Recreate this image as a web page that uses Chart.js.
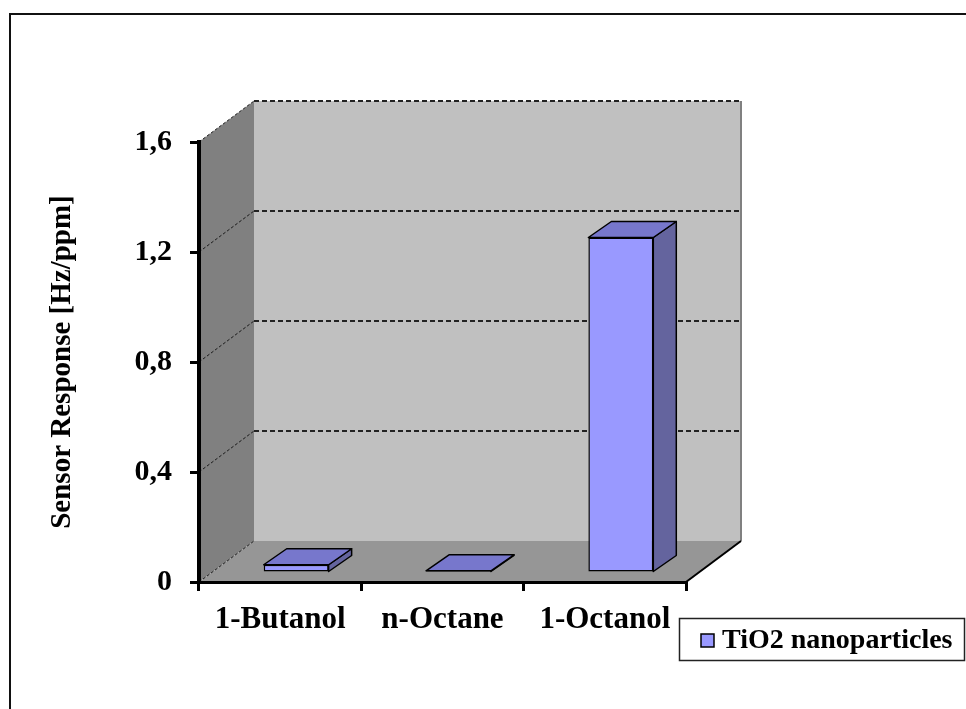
<!DOCTYPE html>
<html>
<head>
<meta charset="utf-8">
<script src="https://cdn.jsdelivr.net/npm/chart.js@4.4.1/dist/chart.umd.min.js"></script>
<style>
  html, body { margin: 0; padding: 0; background: #fff; }
  #wrap { position: relative; width: 966px; height: 709px; }
</style>
</head>
<body>
<div id="wrap"><canvas id="chart" width="966" height="709"></canvas></div>
<script>
const categories = ['1-Butanol', 'n-Octane', '1-Octanol'];
const seriesName = 'TiO2 nanoparticles';
const responses = [0.03, 0.008, 1.22];
const yTicks = [0, 0.4, 0.8, 1.2, 1.6];

const SERIF = "'Liberation Serif', 'Times New Roman', serif";

// depth of the box (walls) and of the bars, in pixels
const WALL_DX = 55, WALL_DY = -41;
const BAR_SHIFT_X = 16, BAR_SHIFT_Y = -9;
const BAR_DX = 23, BAR_DY = -16;

function fillPoly(ctx, pts, color) {
  ctx.beginPath();
  ctx.moveTo(pts[0][0], pts[0][1]);
  for (let i = 1; i < pts.length; i++) ctx.lineTo(pts[i][0], pts[i][1]);
  ctx.closePath();
  ctx.fillStyle = color;
  ctx.fill();
}

// frame, walls, floor and grid lines behind everything
const wallsPlugin = {
  id: 'walls',
  beforeDraw(chart) {
    const { ctx, chartArea: a } = chart;
    const y = chart.scales.y;
    ctx.save();

    // outer chart frame
    ctx.strokeStyle = '#111';
    ctx.lineWidth = 2;
    ctx.beginPath();
    ctx.moveTo(10, 720);
    ctx.lineTo(10, 14);
    ctx.lineTo(980, 14);
    ctx.stroke();

    // left side wall
    fillPoly(ctx, [[a.left, a.top], [a.left + WALL_DX, a.top + WALL_DY],
      [a.left + WALL_DX, a.bottom + WALL_DY], [a.left, a.bottom]], '#808080');
    // back wall
    ctx.fillStyle = '#c0c0c0';
    ctx.fillRect(a.left + WALL_DX, a.top + WALL_DY, a.right - a.left, a.bottom - a.top);
    // floor
    fillPoly(ctx, [[a.left, a.bottom], [a.left + WALL_DX, a.bottom + WALL_DY],
      [a.right + WALL_DX, a.bottom + WALL_DY], [a.right, a.bottom]], '#969696');

    // grid lines: dashed on the back wall, diagonal on the side wall
    yTicks.forEach(v => {
      const py = y.getPixelForValue(v);
      if (v > 0) {
        ctx.setLineDash([5, 3]);
        ctx.strokeStyle = '#222';
        ctx.lineWidth = 2;
        ctx.beginPath();
        ctx.moveTo(a.left + WALL_DX, py + WALL_DY);
        ctx.lineTo(a.right + WALL_DX, py + WALL_DY);
        ctx.stroke();
      }
      ctx.setLineDash([3, 2]);
      ctx.strokeStyle = '#1a1a1a';
      ctx.lineWidth = 1;
      ctx.beginPath();
      ctx.moveTo(a.left, py);
      ctx.lineTo(a.left + WALL_DX, py + WALL_DY);
      ctx.stroke();
    });
    ctx.setLineDash([]);

    // right edge of back wall
    ctx.strokeStyle = '#808080';
    ctx.lineWidth = 2;
    ctx.beginPath();
    ctx.moveTo(a.right + WALL_DX, a.top + WALL_DY);
    ctx.lineTo(a.right + WALL_DX, a.bottom + WALL_DY);
    ctx.stroke();

    // right edge of floor
    ctx.strokeStyle = '#000';
    ctx.lineWidth = 2;
    ctx.beginPath();
    ctx.moveTo(a.right, a.bottom);
    ctx.lineTo(a.right + WALL_DX, a.bottom + WALL_DY);
    ctx.stroke();
    ctx.restore();
  }
};

// top and side faces of the bars; front faces come from Chart.js
const bars3dPlugin = {
  id: 'bars3d',
  beforeDatasetsDraw(chart) {
    const ctx = chart.ctx;
    ctx.save();
    ctx.translate(BAR_SHIFT_X, BAR_SHIFT_Y);
    ctx.lineWidth = 1.5;
    ctx.strokeStyle = '#000';
    ctx.lineJoin = 'round';
    chart.getDatasetMeta(0).data.forEach(bar => {
      const l = bar.x - bar.width / 2;
      const r = bar.x + bar.width / 2;
      const top = bar.y, base = bar.base;
      const side = [[r, top], [r + BAR_DX, top + BAR_DY], [r + BAR_DX, base + BAR_DY], [r, base]];
      fillPoly(ctx, side, '#64649e');
      ctx.stroke();
      const lid = [[l, top], [l + BAR_DX, top + BAR_DY], [r + BAR_DX, top + BAR_DY], [r, top]];
      fillPoly(ctx, lid, '#7777cc');
      ctx.stroke();
    });
  },
  afterDatasetsDraw(chart) {
    chart.ctx.restore();
  }
};

// legend box at the lower right
const legendPlugin = {
  id: 'boxLegend',
  afterDraw(chart) {
    const ctx = chart.ctx;
    const ds = chart.data.datasets[0];
    ctx.save();
    ctx.fillStyle = '#fff';
    ctx.fillRect(679, 618, 286, 43);
    ctx.strokeStyle = '#222';
    ctx.lineWidth = 1.5;
    ctx.strokeRect(679.5, 618.5, 285, 42);
    ctx.fillStyle = ds.backgroundColor;
    ctx.fillRect(701, 634, 13, 13);
    ctx.lineWidth = 1.5;
    ctx.strokeStyle = '#000';
    ctx.strokeRect(701, 634, 13, 13);
    ctx.fillStyle = '#000';
    ctx.font = 'bold 28px ' + SERIF;
    ctx.textBaseline = 'middle';
    ctx.fillText(ds.label, 722, 641);
    ctx.restore();
  }
};

const axisFont = size => ({ family: SERIF, size: size, weight: 'bold' });

new Chart(document.getElementById('chart'), {
  type: 'bar',
  data: {
    labels: categories,
    datasets: [{
      label: seriesName,
      data: responses,
      backgroundColor: '#9999ff',
      borderColor: '#000',
      borderWidth: 1.5,
      borderSkipped: false,
      categoryPercentage: 1,
      barPercentage: 0.4,
      clip: false
    }]
  },
  options: {
    responsive: false,
    animation: false,
    devicePixelRatio: 1,
    layout: { padding: { left: 10, top: 142, right: 280, bottom: 0 } },
    plugins: {
      legend: { display: false },
      tooltip: { enabled: false }
    },
    scales: {
      x: {
        grid: {
          offset: true,
          drawOnChartArea: false,
          drawTicks: true,
          tickLength: 9,
          color: '#000',
          lineWidth: 3
        },
        border: { display: true, color: '#000', width: 3 },
        ticks: { color: '#000', font: axisFont(31), padding: 10, maxRotation: 0 },
        afterFit(scale) { scale.height = 127; }
      },
      y: {
        min: 0,
        max: 1.6,
        afterBuildTicks(scale) { scale.ticks = yTicks.map(v => ({ value: v })); },
        grid: {
          drawOnChartArea: false,
          drawTicks: true,
          tickLength: 9,
          color: '#000',
          lineWidth: 3
        },
        border: { display: true, color: '#000', width: 4 },
        ticks: {
          color: '#000',
          font: axisFont(30),
          padding: 18,
          callback: v => String(v).replace('.', ',')
        },
        title: {
          display: true,
          text: 'Sensor Response [Hz/ppm]',
          color: '#000',
          font: axisFont(29),
          padding: { top: 35, bottom: 0 }
        },
        afterFit(scale) { scale.width = 189; }
      }
    }
  },
  plugins: [wallsPlugin, bars3dPlugin, legendPlugin]
});
</script>
</body>
</html>
